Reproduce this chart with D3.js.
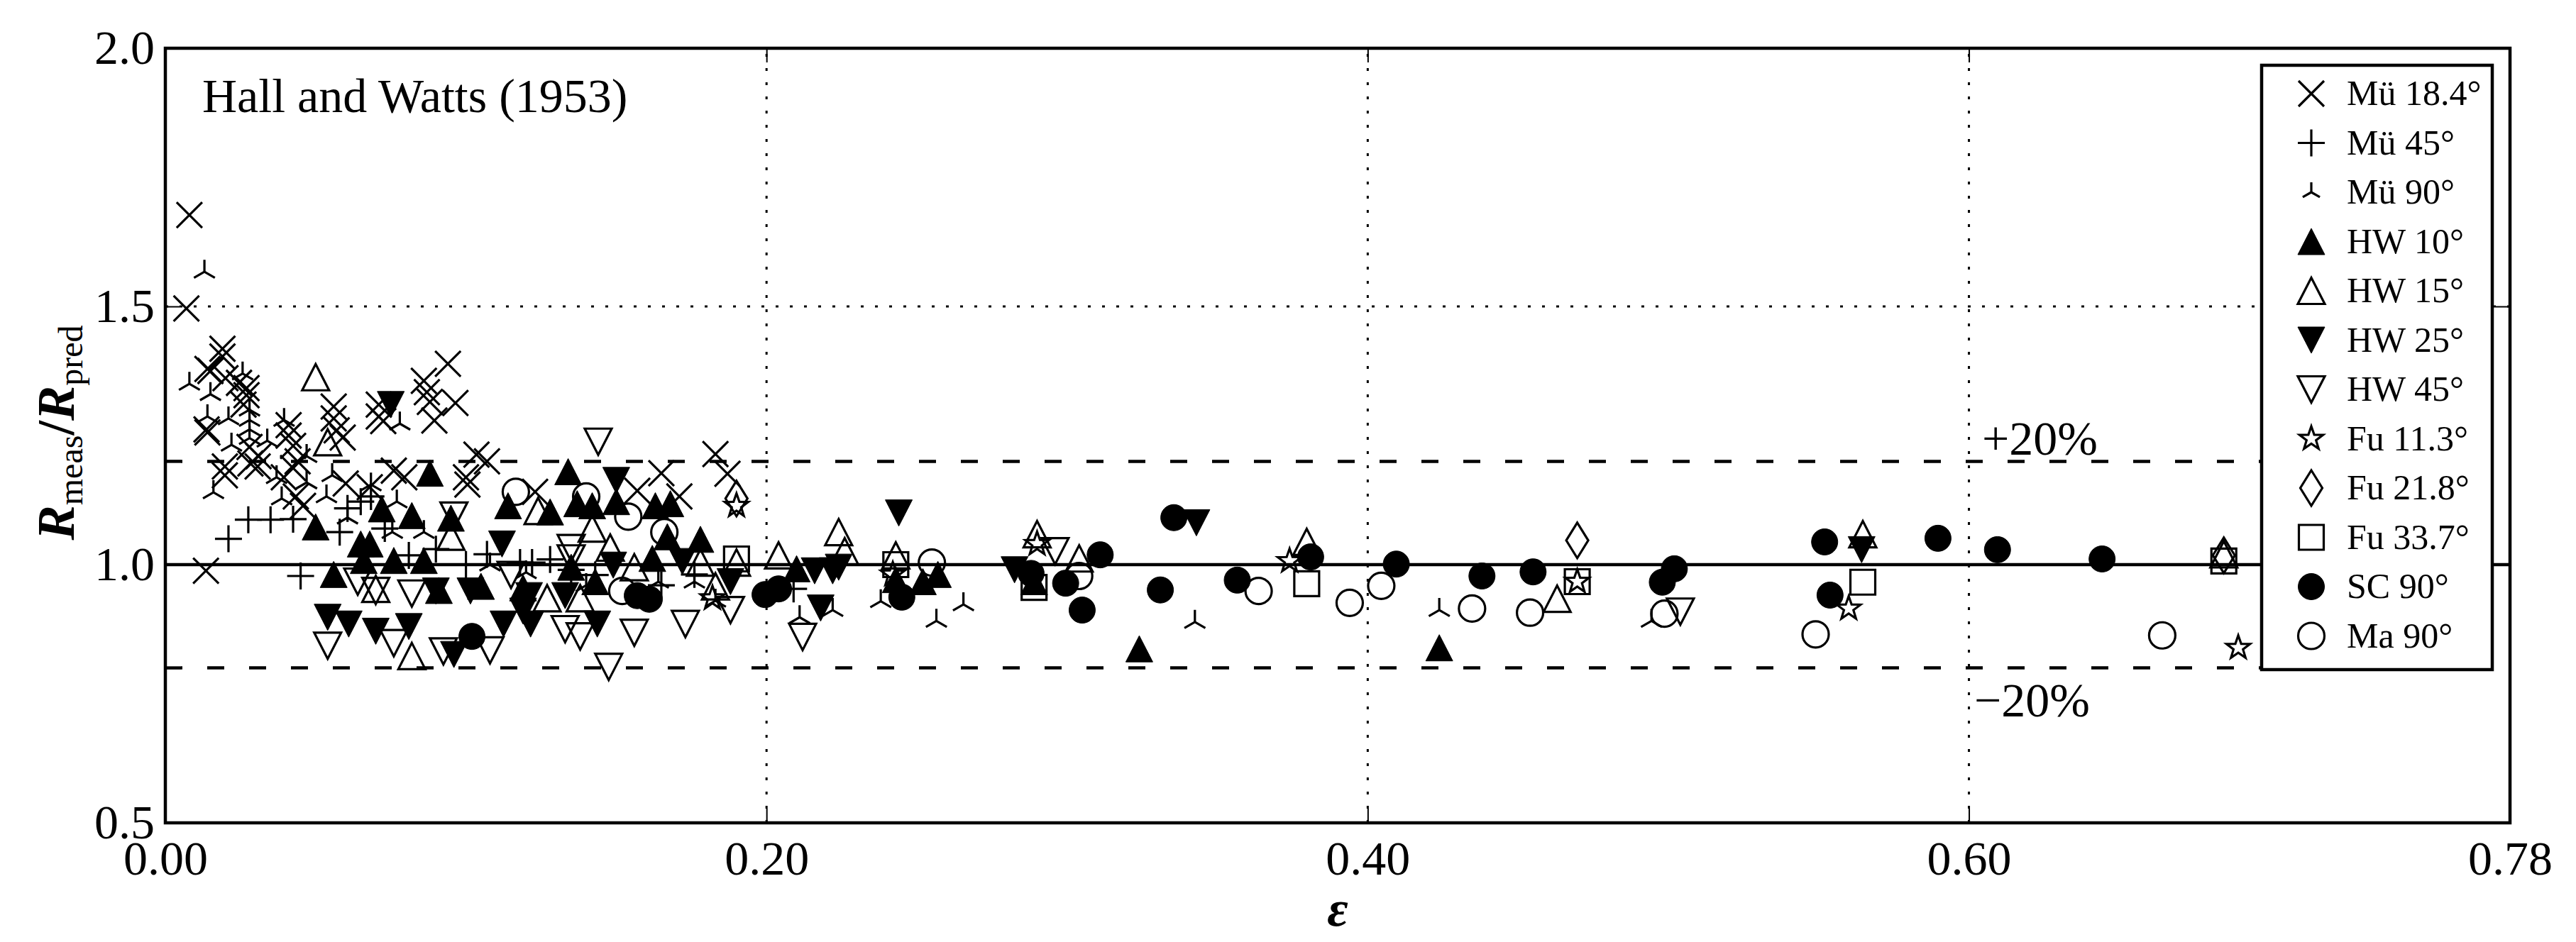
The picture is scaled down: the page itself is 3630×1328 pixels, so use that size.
<!DOCTYPE html>
<html><head><meta charset="utf-8">
<script src="https://cdn.jsdelivr.net/npm/d3@7"></script>
<style>body{margin:0;background:#fff}svg{display:block}</style>
</head><body>
<script>
// ---------- data (epsilon, Rmeas/Rpred) ----------
const xTickValues = [0, 0.2, 0.4, 0.6, 0.78];
const xTickLabels = ["0.00", "0.20", "0.40", "0.60", "0.78"];
const yTickValues = [0.5, 1.0, 1.5, 2.0];
const yTickLabels = ["0.5", "1.0", "1.5", "2.0"];
const seriesLabels = ["Mü 18.4°","Mü 45°","Mü 90°","HW 10°","HW 15°","HW 25°","HW 45°","Fu 11.3°","Fu 21.8°","Fu 33.7°","SC 90°","Ma 90°"];

const mu184 = [[0.008,1.677],[0.007,1.496],[0.0135,0.988],[0.019,1.418],[0.019,1.403],[0.014,1.379],[0.015,1.375],
 [0.020,1.361],[0.0245,1.352],[0.027,1.342],[0.027,1.328],[0.026,1.31],[0.014,1.256],[0.0137,1.262],
 [0.041,1.27],[0.041,1.25],[0.0425,1.23],[0.028,1.228],[0.031,1.21],[0.0198,1.19],[0.0198,1.173],
 [0.056,1.306],[0.056,1.283],[0.057,1.26],[0.059,1.246],[0.071,1.31],[0.071,1.287],[0.0725,1.278],
 [0.086,1.356],[0.087,1.334],[0.088,1.315],[0.094,1.389],[0.0965,1.313],[0.0895,1.279],
 [0.076,1.182],[0.0795,1.169],[0.107,1.20],[0.100,1.169],[0.1005,1.155],[0.1035,1.213],
 [0.0283,1.196],[0.0307,1.19],[0.0394,1.169],[0.0425,1.187],[0.044,1.2],[0.0434,1.132],[0.0458,1.114],
 [0.060,1.157],[0.068,1.15],[0.123,1.141],[0.165,1.177],[0.157,1.143],[0.171,1.132],[0.183,1.214],[0.187,1.176]];
const mu45 = [[0.021,1.05],[0.0276,1.087],[0.035,1.087],[0.0425,1.088],[0.045,0.978],[0.0606,1.109],[0.065,1.122],
 [0.0684,1.132],[0.058,1.063],[0.081,1.018],[0.073,1.07],[0.09,1.03],[0.1,1.0],[0.107,1.02],[0.118,1.004],
 [0.122,1.004],[0.128,1.01],[0.135,0.99],[0.143,0.98],[0.176,0.981],[0.209,0.953],[0.165,0.96]];
const mu90 = [[0.013,1.567],[0.008,1.35],[0.015,1.33],[0.0257,1.37],[0.014,1.287],[0.021,1.283],[0.028,1.30],
 [0.028,1.28],[0.028,1.262],[0.028,1.245],[0.0395,1.28],[0.0339,1.24],[0.022,1.232],[0.016,1.14],[0.078,1.273],
 [0.047,1.21],[0.047,1.159],[0.037,1.169],[0.0387,1.128],[0.0555,1.173],[0.0536,1.132],[0.0684,1.155],
 [0.0606,1.091],[0.077,1.122],[0.086,1.063],[0.0755,1.063],[0.108,1.0],[0.12,0.985],[0.14,0.96],[0.164,0.967],
 [0.176,0.967],[0.183,0.93],[0.211,0.898],[0.222,0.912],[0.238,0.929],[0.2565,0.891],[0.2655,0.923],
 [0.3425,0.889],[0.4238,0.912],[0.4944,0.891]];
const hw10 = [[0.05,1.073],[0.056,0.981],[0.065,1.04],[0.068,1.04],[0.072,1.108],[0.082,1.095],[0.095,1.09],
 [0.114,1.114],[0.076,1.008],[0.086,1.008],[0.066,1.008],[0.088,1.177],[0.091,0.95],[0.105,0.958],[0.119,0.955],
 [0.134,1.18],[0.128,1.102],[0.137,1.118],[0.142,1.114],[0.15,1.122],[0.163,1.114],[0.168,1.118],[0.167,1.054],
 [0.178,1.049],[0.162,1.012],[0.135,0.995],[0.143,0.967],[0.21,0.992],[0.243,0.971],[0.252,0.967],[0.257,0.981],
 [0.289,0.967],[0.324,0.837],[0.4238,0.839]];
const hw15 = [[0.05,1.363],[0.054,1.237],[0.082,0.823],[0.07,0.953],[0.095,1.054],[0.124,1.104],[0.142,1.07],
 [0.148,1.033],[0.127,0.935],[0.138,0.935],[0.156,0.995],[0.19,1.004],[0.178,1.004],[0.183,0.958],[0.204,1.018],
 [0.224,1.063],[0.226,1.026],[0.243,1.018],[0.29,1.059],[0.304,1.012],[0.3797,1.044],[0.463,0.934],
 [0.5647,1.059],[0.6848,1.02]];
const hw25 = [[0.075,1.31],[0.054,0.898],[0.061,0.885],[0.07,0.871],[0.081,0.88],[0.096,0.826],[0.1125,0.885],
 [0.1215,0.885],[0.1437,0.885],[0.15,1.163],[0.112,1.04],[0.1015,0.949],[0.09,0.949],[0.119,0.91],[0.133,0.94],
 [0.121,0.94],[0.149,0.999],[0.172,1.006],[0.188,0.967],[0.216,0.988],[0.222,0.988],[0.218,0.916],[0.224,0.995],
 [0.244,1.1],[0.2825,0.99],[0.343,1.081],[0.5643,1.029]];
const hw45 = [[0.054,0.843],[0.076,0.848],[0.0925,0.832],[0.108,0.834],[0.064,0.967],[0.07,0.949],[0.082,0.944],
 [0.096,1.095],[0.115,0.98],[0.144,1.238],[0.1475,0.802],[0.156,0.868],[0.133,0.875],[0.138,0.861],[0.173,0.885],
 [0.188,0.912],[0.212,0.86],[0.135,1.032],[0.135,1.012],[0.296,1.026],[0.504,0.909]];
const fu113 = [[0.19,1.114],[0.182,0.935],[0.242,0.981],[0.29,1.04],[0.374,1.007],[0.4697,0.967],[0.56,0.915],[0.6896,0.839]];
const fu218 = [[0.19,1.128],[0.4697,1.047],[0.6848,1.018]];
const fu337 = [[0.19,1.011],[0.243,1.0],[0.289,0.956],[0.3797,0.963],[0.4697,0.967],[0.5647,0.966],[0.6848,1.007]];
const sc90 = [[0.102,0.861],[0.1995,0.942],[0.204,0.953],[0.161,0.933],[0.157,0.94],[0.245,0.937],[0.2995,0.964],
 [0.288,0.983],[0.311,1.019],[0.305,0.912],[0.331,0.951],[0.3355,1.091],[0.3566,0.97],[0.381,1.015],[0.4095,1.001],
 [0.438,0.978],[0.455,0.986],[0.498,0.966],[0.502,0.992],[0.552,1.044],[0.5538,0.941],[0.5897,1.051],
 [0.6095,1.029],[0.6443,1.011]];
const ma90 = [[0.1166,1.141],[0.14,1.132],[0.154,1.093],[0.166,1.063],[0.152,0.949],[0.255,1.004],[0.304,0.978],
 [0.3637,0.949],[0.394,0.926],[0.4045,0.959],[0.4347,0.915],[0.454,0.907],[0.4987,0.905],[0.549,0.865],[0.6643,0.863]];

const refLines = [1.0];          // solid reference
const bandLines = [1.2, 0.8];    // ±20 % dashed
const bandLabels = ["+20%", "\u221220%"];

// ---------- marker shapes ----------
function star(ro, ri){
  let p = "";
  for (let i = 0; i < 10; i++){
    const r = i % 2 ? ri : ro, a = -Math.PI/2 + i*Math.PI/5;
    p += (i ? "L" : "M") + (r*Math.cos(a)).toFixed(2) + "," + (r*Math.sin(a)).toFixed(2);
  }
  return p + "Z";
}
const c30 = Math.cos(Math.PI/6), s30 = 0.5;
const shapes = {
  x:    {d: s => `M${-18*s},${-18*s}L${18*s},${18*s}M${-18*s},${18*s}L${18*s},${-18*s}`, fill:false, line:true},
  plus: {d: s => `M${-19*s},0L${19*s},0M0,${-19*s}L0,${19*s}`, fill:false, line:true},
  tri:  {d: s => { const r=17*s; return `M0,0L0,${-r}M0,0L${r*c30},${r*s30}M0,0L${-r*c30},${r*s30}`; }, fill:false, line:true},
  up:   {d: s => `M0,${-18.5*s}L${19*s},${18.5*s}L${-19*s},${18.5*s}Z`, fill:true},
  upO:  {d: s => `M0,${-18.5*s}L${19*s},${18.5*s}L${-19*s},${18.5*s}Z`, fill:false},
  dn:   {d: s => `M0,${18.5*s}L${19*s},${-18.5*s}L${-19*s},${-18.5*s}Z`, fill:true},
  dnO:  {d: s => `M0,${18.5*s}L${19*s},${-18.5*s}L${-19*s},${-18.5*s}Z`, fill:false},
  star: {d: s => star(17.5*s, 7*s), fill:false},
  dia:  {d: s => `M0,${-25*s}L${15.5*s},0L0,${25*s}L${-15.5*s},0Z`, fill:false},
  sq:   {d: s => `M${-17.5*s},${-17.5*s}h${35*s}v${35*s}h${-35*s}Z`, fill:false},
  circ: {d: s => d3.symbol(d3.symbolCircle, Math.PI*18.5*18.5*s*s)(), fill:true},
  circO:{d: s => d3.symbol(d3.symbolCircle, Math.PI*18.5*18.5*s*s)(), fill:false}
};
const series = [
  {data: mu184, shape: "x"}, {data: mu45, shape: "plus"}, {data: mu90, shape: "tri"},
  {data: hw10, shape: "up"}, {data: hw15, shape: "upO"}, {data: hw25, shape: "dn"}, {data: hw45, shape: "dnO"},
  {data: fu113, shape: "star"}, {data: fu218, shape: "dia"}, {data: fu337, shape: "sq"},
  {data: sc90, shape: "circ"}, {data: ma90, shape: "circO"}
].map((s, i) => ({...s, label: seriesLabels[i]}));

// ---------- layout ----------
const W = 3630, H = 1328;
const L = 233, R = 3537, T = 68, B = 1160;
const font = "'Liberation Serif','Times New Roman',serif";

const svg = d3.select("body").append("svg").attr("width", W).attr("height", H)
  .style("font-family", font);
svg.append("rect").attr("width", W).attr("height", H).attr("fill", "#fff");

const x = d3.scaleLinear().domain([0, 0.78]).range([L, R]);
const y = d3.scaleLinear().domain([0.5, 2.0]).range([B, T]);

svg.append("clipPath").attr("id", "plotclip").append("rect")
  .attr("x", L).attr("y", T).attr("width", R - L).attr("height", B - T);

// grid (dotted)
const grid = svg.append("g").attr("stroke", "#000").attr("stroke-width", 3).attr("stroke-dasharray", "4,16");
grid.selectAll("line.gx").data(xTickValues.filter(v => v > 0 && v < 0.78)).join("line")
  .attr("x1", d => x(d)).attr("x2", d => x(d)).attr("y1", B).attr("y2", T);
grid.selectAll("line.gy").data(yTickValues.filter(v => v > 0.5 && v < 2.0 && v !== 1.0)).join("line")
  .attr("x1", L).attr("x2", R).attr("y1", d => y(d)).attr("y2", d => y(d));

// reference lines
svg.append("g").selectAll("line").data(refLines).join("line")
  .attr("x1", L).attr("x2", R).attr("y1", d => y(d)).attr("y2", d => y(d))
  .attr("stroke", "#000").attr("stroke-width", 4.5);
svg.append("g").selectAll("line").data(bandLines).join("line")
  .attr("x1", L).attr("x2", R).attr("y1", d => y(d)).attr("y2", d => y(d))
  .attr("stroke", "#000").attr("stroke-width", 4.5).attr("stroke-dasharray", "24,35");

// axes with inward ticks
function styleAxis(g){
  g.select(".domain").remove();
  g.selectAll(".tick line").attr("stroke", "#000").attr("stroke-width", 2);
  g.selectAll(".tick text").attr("font-family", font).attr("font-size", 68).attr("fill", "#000");
}
svg.append("g").attr("transform", `translate(0,${B})`)
  .call(d3.axisBottom(x).tickValues(xTickValues).tickFormat((d, i) => xTickLabels[i]).tickSizeInner(-20).tickSizeOuter(0).tickPadding(25))
  .call(styleAxis);
svg.append("g").attr("transform", `translate(0,${T})`)
  .call(d3.axisTop(x).tickValues(xTickValues).tickFormat("").tickSizeInner(-20).tickSizeOuter(0))
  .call(styleAxis);
svg.append("g").attr("transform", `translate(${L},0)`)
  .call(d3.axisLeft(y).tickValues(yTickValues).tickFormat((d, i) => yTickLabels[i]).tickSizeInner(-20).tickSizeOuter(0).tickPadding(15))
  .call(styleAxis);
svg.append("g").attr("transform", `translate(${R},0)`)
  .call(d3.axisRight(y).tickValues(yTickValues).tickFormat("").tickSizeInner(-20).tickSizeOuter(0))
  .call(styleAxis);

// markers
function drawMarker(sel, shape, s){
  const sh = shapes[shape];
  sel.attr("d", sh.d(s))
    .attr("fill", sh.fill ? "#000" : "none")
    .attr("stroke", "#000")
    .attr("stroke-width", sh.fill ? 1 : 3.2)
    .attr("stroke-linejoin", "miter");
}
const plot = svg.append("g").attr("clip-path", "url(#plotclip)");
series.forEach(s => {
  plot.append("g").selectAll("path").data(s.data).join("path")
    .attr("transform", d => `translate(${x(d[0])},${y(d[1])})`)
    .call(drawMarker, s.shape, 1);
});

// frame
svg.append("rect").attr("x", L).attr("y", T).attr("width", R - L).attr("height", B - T)
  .attr("fill", "none").attr("stroke", "#000").attr("stroke-width", 4.5);

// annotation texts
svg.append("text").attr("x", 285).attr("y", 158).attr("font-size", 68).text("Hall and Watts (1953)");
svg.append("g").selectAll("text").data(bandLines).join("text")
  .attr("x", (d, i) => i === 0 ? 2793 : 2782)
  .attr("y", (d, i) => i === 0 ? y(d) - 9 : y(d) + 68)
  .attr("font-size", 68).text((d, i) => bandLabels[i]);

// axis titles
svg.append("text").attr("x", (L + R) / 2).attr("y", 1305).attr("text-anchor", "middle")
  .attr("font-size", 72).attr("font-style", "italic").attr("font-weight", "bold").text("\u03b5");
const yl = svg.append("text").attr("transform", "translate(104,610) rotate(-90)").attr("text-anchor", "middle");
[["R", 74, "italic", "bold", 0], ["meas", 48, "normal", "normal", 12], ["/", 74, "normal", "bold", -12],
 ["R", 74, "italic", "bold", 0], ["pred", 48, "normal", "normal", 12]].forEach(p => {
  yl.append("tspan").attr("font-size", p[1]).attr("font-style", p[2]).attr("font-weight", p[3])
    .attr("dy", p[4]).text(p[0]);
});

// legend
const leg = svg.append("g");
leg.append("rect").attr("x", 3187).attr("y", 92).attr("width", 325).attr("height", 852)
  .attr("fill", "#fff").attr("stroke", "#000").attr("stroke-width", 4.5);
const rows = leg.selectAll("g.row").data(series).join("g")
  .attr("transform", (d, i) => `translate(3257,${132 + i * 69.5})`);
rows.each(function(d){
  d3.select(this).append("path").call(drawMarker, d.shape, d.shape === "tri" ? 0.82 : 1);
});
rows.append("text").attr("x", 50).attr("y", 16).attr("font-size", 50).text(d => d.label);
</script>
</body></html>
